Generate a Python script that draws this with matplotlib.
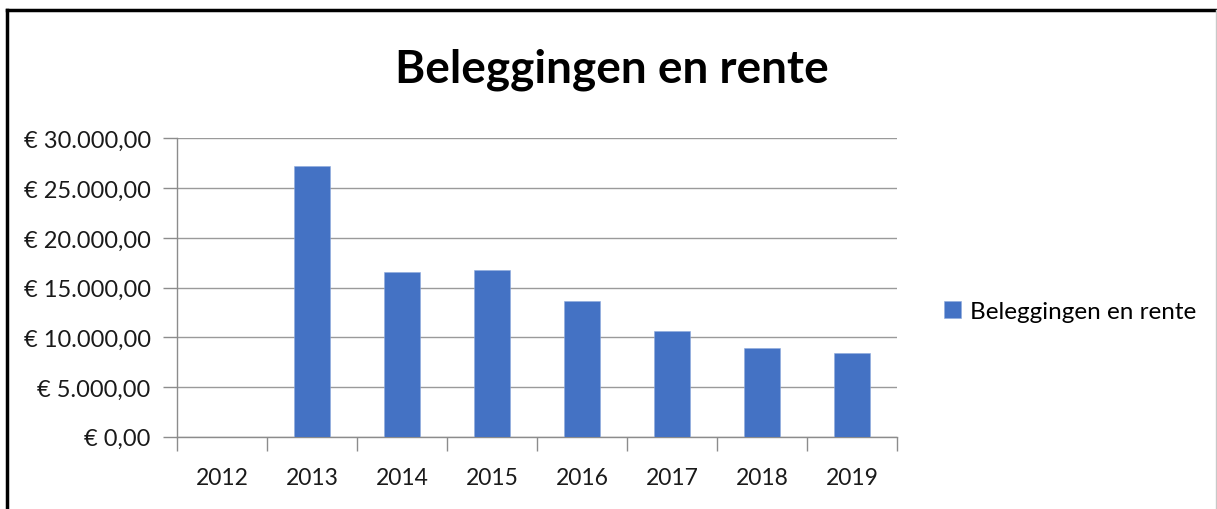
import numpy as np
import matplotlib.pyplot as plt
from matplotlib.ticker import FuncFormatter, FixedLocator
from matplotlib.lines import Line2D

plt.rcParams["font.family"] = ["Lato", "DejaVu Sans"]

years = ["2012", "2013", "2014", "2015", "2016", "2017", "2018", "2019"]
values = [0, 27200, 16600, 16740, 13650, 10660, 8890, 8390]
series_name = "Beleggingen en rente"
title = "Beleggingen en rente"


def euro(v, pos):
	s = "{:,.2f}".format(v).replace(",", "X").replace(".", ",").replace("X", ".")
	return "€ " + s


fig = plt.figure(figsize = (12.17, 5.10), dpi = 100)
ax = fig.add_axes([0.1455, 0.1418, 0.737 - 0.1455, 0.7265 - 0.1418])

x = np.arange(len(years))
ax.bar(x, values, width = 0.4, color = "#4472C4", edgecolor = "#8faadc", linewidth = 0.4,
	label = series_name, zorder = 3)

ax.set_ylim(0, 30000)
ax.set_xlim(-0.5, len(years) - 0.5)
ax.set_yticks(np.arange(0, 30001, 5000))
ax.yaxis.set_major_formatter(FuncFormatter(euro))
ax.set_xticks(x)
ax.set_xticklabels(years)
ax.xaxis.set_minor_locator(FixedLocator(np.arange(-0.5, len(years), 1.0)))
ax.tick_params(axis = "x", which = "major", length = 0, labelsize = 16.5, pad = 22, colors = "#1a1a1a")
ax.tick_params(axis = "x", which = "minor", length = 10, width = 1, color = "#8c8c8c")
ax.tick_params(axis = "y", length = 10, width = 1, color = "#8c8c8c", labelsize = 17, pad = 9,
	labelcolor = "#1a1a1a")

ax.grid(axis = "y", color = "#9a9a9a", linewidth = 1, zorder = 0)
for side in ["top", "right"]:
	ax.spines[side].set_visible(False)
for side in ["left", "bottom"]:
	ax.spines[side].set_color("#8c8c8c")
	ax.spines[side].set_linewidth(1)

fig.text(0.503, 0.863, title, ha = "center", va = "center", fontsize = 33, fontweight = "bold")

fig.legend(loc = "center left", bbox_to_anchor = (0.758, 0.388), frameon = False, fontsize = 17.5,
	handlelength = 0.7, handleheight = 0.7, handletextpad = 0.35)

# frame round the chart
fig.add_artist(Line2D([7 / 1217, 7 / 1217], [0, 1 - 11 / 510], color = "black", linewidth = 2.5))
fig.add_artist(Line2D([7 / 1217, 1216 / 1217], [1 - 11 / 510, 1 - 11 / 510], color = "black", linewidth = 2.5))
fig.add_artist(Line2D([1215.5 / 1217, 1215.5 / 1217], [0, 1 - 11 / 510], color = "#c8c8c8", linewidth = 1))

fig.savefig("out.png", dpi = 100)
